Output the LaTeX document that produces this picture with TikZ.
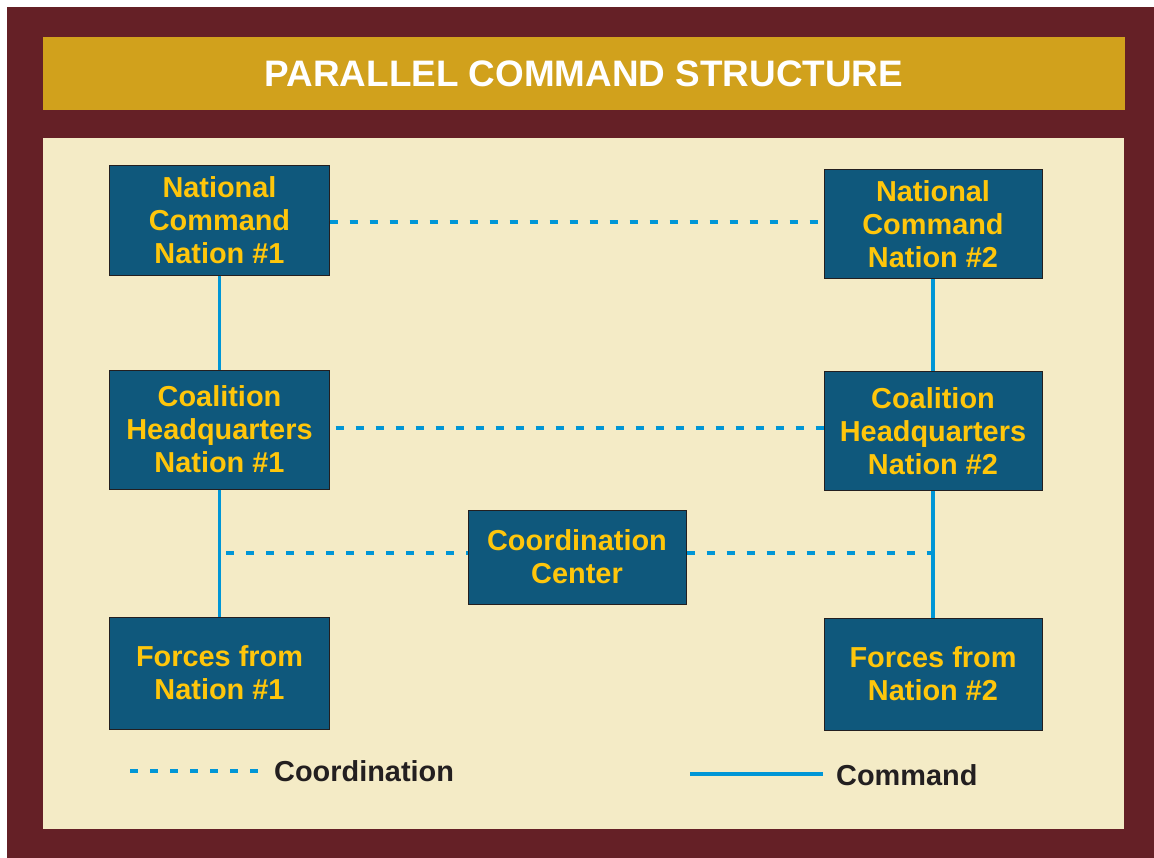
\documentclass[tikz,border=0pt]{standalone}
\usepackage{fontspec}
\setmainfont{Liberation Sans}
\definecolor{maroon}{HTML}{652026}
\definecolor{goldbar}{HTML}{D1A11C}
\definecolor{cream}{HTML}{F4EBC6}
\definecolor{boxblue}{HTML}{0F587C}
\definecolor{boxtext}{HTML}{FFC60B}
\definecolor{linkblue}{HTML}{0096D6}
\definecolor{darktext}{HTML}{231F20}
\tikzset{
  orgbox/.style={draw=darktext, line width=1bp, fill=boxblue, text=boxtext,
    font=\fontsize{29}{33}\selectfont\bfseries, align=center, inner sep=0pt},
  cmdline/.style={draw=linkblue, line width=3.5bp},
  coordline/.style={draw=linkblue, line width=3.5bp, dash pattern=on 8bp off 12bp},
  legendtext/.style={text=darktext, font=\fontsize{29}{33}\selectfont\bfseries, inner sep=0pt}
}
\begin{document}
\begin{tikzpicture}[x=1bp,y=-1bp]
\useasboundingbox (0,0) rectangle (1154,858);
\fill[white] (0,0) rectangle (1154,858);
\fill[maroon] (7,7) rectangle (1154,858);
\fill[goldbar] (43,37) rectangle (1125,110);
\fill[cream] (43,138) rectangle (1124,829);
\node[text=white, font=\fontsize{37}{40}\selectfont\bfseries, inner sep=0pt] (title) at (584,74) {PARALLEL COMMAND STRUCTURE};

\node[orgbox, minimum width=219bp, minimum height=110bp] (nc1) at (219.5,220) {National\\Command\\Nation \#1};
\node[orgbox, minimum width=218bp, minimum height=109bp] (nc2) at (933,224) {National\\Command\\Nation \#2};
\node[orgbox, minimum width=219bp, minimum height=119bp] (ch1) at (219.5,429.5) {Coalition\\Headquarters\\Nation \#1};
\node[orgbox, minimum width=218bp, minimum height=119bp] (ch2) at (933,431) {Coalition\\Headquarters\\Nation \#2};
\node[orgbox, minimum width=218bp, minimum height=94bp] (cc) at (577,557) {Coordination\\Center};
\node[orgbox, minimum width=219bp, minimum height=112bp] (f1) at (219.5,673) {Forces from\\Nation \#1};
\node[orgbox, minimum width=218bp, minimum height=112bp] (f2) at (933,674) {Forces from\\Nation \#2};

% command lines
\path[cmdline] (nc1.south) -- (ch1.north);
\path[cmdline] (ch1.south) -- (f1.north);
\path[cmdline] (nc2.south) -- (ch2.north);
\path[cmdline] (ch2.south) -- (f2.north);

% coordination lines
\coordinate (ccl) at (222,553);
\coordinate (ccr) at (931,553);
\path[coordline] (nc1.east |- 0,222) -- (nc2.west |- 0,222);
\path[coordline, dash phase=-6bp] (ch1.east |- 0,428) -- (ch2.west |- 0,428);
\path[coordline, dash phase=-4bp] (ccl) -- (cc.west |- ccl);
\path[coordline] (cc.east |- ccr) -- (ccr);

% legend
\coordinate (lc1) at (130,771);
\coordinate (lc2) at (260,771);
\node[legendtext, anchor=west] (lcoord) at (274,771) {Coordination};
\path[coordline] (lc1) -- (lc2);
\coordinate (lm1) at (690,774);
\coordinate (lm2) at (823,774);
\node[legendtext, anchor=west] (lcmd) at (836,775) {Command};
\path[cmdline] (lm1) -- (lm2);
\end{tikzpicture}
\end{document}
